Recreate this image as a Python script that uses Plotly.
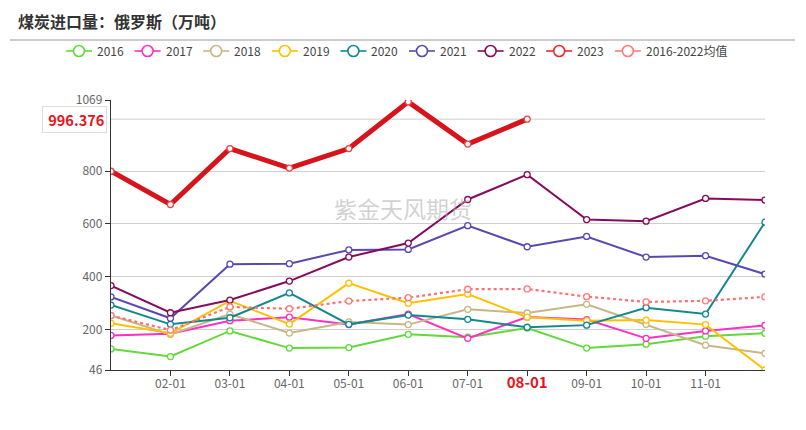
import plotly.graph_objects as go

months = ["01-01", "02-01", "03-01", "04-01", "05-01", "06-01",
          "07-01", "08-01", "09-01", "10-01", "11-01", "12-01"]

y2016 = [126, 97, 194, 129, 131, 181, 170, 205, 129, 144, 174, 185]
y2017 = [177, 183, 233, 246, 218, 258, 166, 247, 237, 166, 194, 215]
y2018 = [253, 181, 258, 186, 228, 218, 276, 262, 295, 219, 140, 109]
y2019 = [223, 185, 308, 220, 375, 299, 334, 246, 233, 235, 218, 46]
y2020 = [292, 219, 244, 338, 219, 254, 238, 208, 216, 282, 258, 606]
y2021 = [323, 242, 447, 449, 501, 503, 593, 513, 552, 474, 479, 409]
y2022 = [366, 263, 311, 383, 474, 527, 692, 786, 616, 610, 696, 690]
y2023 = [799, 673, 885, 811, 885, 1062, 902, 996.376]
yavg = [252, 197, 285, 278, 307, 320, 352, 353, 324, 304, 308, 323]

names = ["2016", "2017", "2018", "2019", "2020", "2021", "2022", "2023", "2016-2022均值"]
colors = ["#63d83b", "#ff2ec4", "#c6b784", "#ffc000", "#13878e",
          "#5a48b2", "#860b5c", "#f0262e", "#ff7b7b"]
values = [y2016, y2017, y2018, y2019, y2020, y2021, y2022, y2023, yavg]

yticks = [46, 200, 400, 600, 800, 1069]
xticks = ["02-01", "03-01", "04-01", "05-01", "06-01", "07-01",
          "08-01", "09-01", "10-01", "11-01"]
last_label = "996.376"

# figure geometry (page is offset by the 8px body margin)
W, H = 798, 422
L, T = 103, 92
PW, PH = 654, 270
R, B = W - L - PW, H - T - PH


def px(x):
    return (x - L) / PW


def py(y):
    return (T + PH - y) / PH


fig = go.Figure()

for i in range(7):
    col = colors[i]
    fig.add_trace(go.Scatter(
        x=months[:len(values[i])], y=values[i], name=names[i], mode="lines+markers",
        line=dict(color=col, width=2),
        marker=dict(symbol="circle", size=6, color="white",
                    line=dict(color=col, width=1.3)),
        showlegend=False,
    ))

fig.add_trace(go.Scatter(
    x=months, y=yavg, name=names[8], mode="lines+markers",
    line=dict(color="#ff6f6f", width=2.2, dash="dot"),
    marker=dict(symbol="circle", size=6, color="white",
                line=dict(color="#ff7b7b", width=1.3)),
    showlegend=False,
))
fig.add_trace(go.Scatter(
    x=months[:len(y2023)], y=y2023, name=names[7], mode="lines+markers",
    line=dict(color="#d7141c", width=5),
    marker=dict(symbol="circle", size=6, color="white",
                line=dict(color="#ee4444", width=1.3)),
    showlegend=False,
))

ticktext = []
for m in xticks:
    if m == "08-01":
        ticktext.append("<b><span style='color:#e8141c;font-size:15px'>08-01</span></b>")
    else:
        ticktext.append(m)

fig.update_layout(
    width=W, height=H,
    margin=dict(l=L, r=R, t=T, b=B, autoexpand=False),
    paper_bgcolor="white", plot_bgcolor="white",
    font=dict(family="Noto Sans CJK SC, Noto Sans, sans-serif", size=12, color="#555"),
    showlegend=False,
    xaxis=dict(
        type="category", categoryorder="array", categoryarray=months,
        range=[0, 11], showgrid=False, zeroline=False,
        showline=True, linecolor="#333", linewidth=1.3,
        ticks="outside", ticklen=5, tickcolor="#333",
        tickvals=xticks, ticktext=ticktext,
        tickfont=dict(size=12, color="#666"),
        ticklabelstandoff=-3,
    ),
    yaxis=dict(
        range=[46, 1069], showgrid=True, gridcolor="#cfcfcf", gridwidth=1,
        zeroline=False, showline=True, linecolor="#333", linewidth=1.3,
        ticks="outside", ticklen=5, tickcolor="#333",
        tickvals=yticks, ticktext=[str(v) for v in yticks],
        tickfont=dict(size=12, color="#666"),
    ),
)

# legend drawn by hand (single row, fixed spacing)
leg_y = 43
for i, (nm, col) in enumerate(zip(names, colors)):
    cx = 71 + 68.6 * i
    fig.add_shape(type="line", xref="paper", yref="paper",
                  x0=px(cx - 13), x1=px(cx + 13), y0=py(leg_y), y1=py(leg_y),
                  line=dict(color=col, width=1.6))
    fig.add_shape(type="circle", xref="paper", yref="paper",
                  x0=px(cx - 5.5), x1=px(cx + 5.5), y0=py(leg_y - 5.5), y1=py(leg_y + 5.5),
                  line=dict(color=col, width=1.6), fillcolor="white")
    fig.add_annotation(xref="paper", yref="paper", x=px(cx + 16), y=py(leg_y),
                       xanchor="left", yanchor="middle", showarrow=False,
                       text=nm, font=dict(size=12, color="#444"))

# mark line at last 2023 value
fig.add_shape(type="line", xref="paper", yref="y", x0=0, x1=1,
              y0=y2023[-1], y1=y2023[-1], line=dict(color="#cfcfcf", width=1),
              layer="below")

fig.add_annotation(
    xref="paper", yref="y", x=-0.006, y=y2023[-1], xanchor="right", yanchor="middle",
    text="&nbsp;<b>" + last_label + "</b>", showarrow=False,
    font=dict(size=14.5, color="#e8141c"), bgcolor="white",
    bordercolor="#dddddd", borderwidth=1, borderpad=2,
)

# title
fig.add_annotation(
    xref="paper", yref="paper", x=px(8), y=py(13),
    xanchor="left", yanchor="middle", showarrow=False,
    text="<b>煤炭进口量：俄罗斯（万吨）</b>",
    font=dict(size=16, color="#333", family="Noto Sans CJK SC"),
)
fig.add_shape(type="line", xref="paper", yref="paper",
              x0=px(2), x1=px(787), y0=py(32), y1=py(32),
              line=dict(color="#999", width=1))

# watermark
fig.add_annotation(
    xref="paper", yref="paper", x=px(395), y=py(200),
    xanchor="center", yanchor="middle", showarrow=False,
    text="紫金天风期货", font=dict(size=23, color="rgba(180,180,180,0.6)"),
)

fig.write_html("out.html")
